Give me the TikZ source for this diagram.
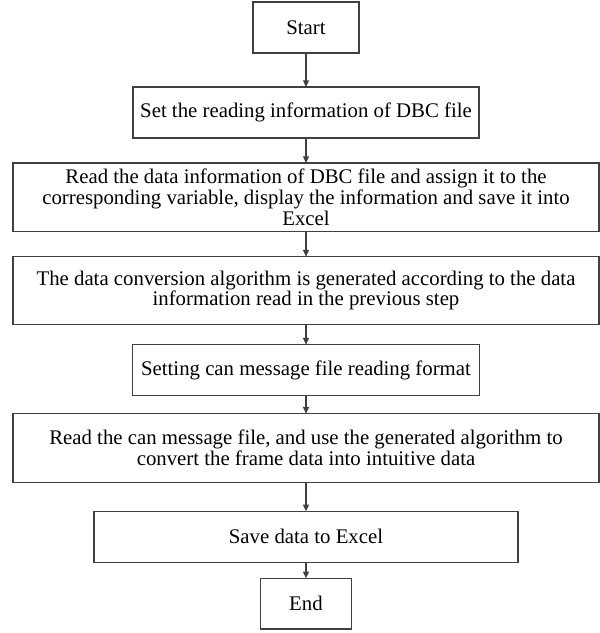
\documentclass[tikz,border=0pt]{standalone}
\usepackage{fontspec}
\setmainfont{Liberation Serif}
\usepackage[HTML]{xcolor}
\usepackage{tikz}
\usetikzlibrary{positioning, arrows.meta}

\definecolor{linegray}{HTML}{404040}

\begin{document}
\begin{tikzpicture}[
  x=1pt, y=1pt,
  font=\fontsize{15.6}{15.4}\selectfont,
  stepbox/.style={draw=linegray, line width=0.8pt, align=center, inner sep=0pt, outer sep=0pt, minimum height=38.25pt},
  widebox/.style={stepbox, minimum width=439.5pt, minimum height=51.5pt},
  flow/.style={-{Triangle[length=5pt,width=4.5pt]}, draw=linegray, line width=0.8pt}
]
\useasboundingbox (0,0) rectangle (450,-474.75);
% boxes
\node[stepbox, minimum width=79.5pt] (start) at (229.5,-20.6) {Start};
\node[stepbox, minimum width=259.5pt, below=25.5pt of start] (setread) {Set the reading information of DBC file};
\node[widebox, below=18.75pt of setread] (readdbc) {Read the data information of DBC file and assign it to the\\ corresponding variable, display the information and save it into\\ Excel};
\node[widebox, minimum height=51pt, below=18.75pt of readdbc] (convert) {The data conversion algorithm is generated according to the data\\ information read in the previous step};
\node[stepbox, minimum width=260pt, below=15pt of convert] (setcan) {Setting can message file reading format};
\node[widebox, below=13.5pt of setcan] (readcan) {Read the can message file, and use the generated algorithm to\\ convert the frame data into intuitive data};
\node[stepbox, minimum width=318pt, below=21.75pt of readcan] (save) {Save data to Excel};
\node[stepbox, minimum width=68.25pt, minimum height=38pt, below=12pt of save] (end) {End};
% arrows
\draw[flow] (start) -- (setread);
\draw[flow] (setread) -- (readdbc);
\draw[flow] (readdbc) -- (convert);
\draw[flow] (convert) -- (setcan);
\draw[flow] (setcan) -- (readcan);
\draw[flow] (readcan) -- (save);
\draw[flow] (save) -- (end);
\end{tikzpicture}
\end{document}
